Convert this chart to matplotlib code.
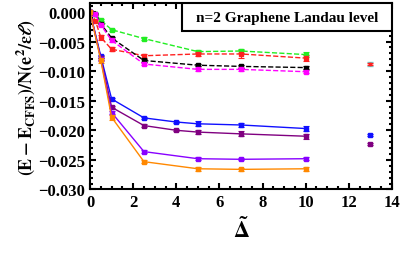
import numpy as np
import matplotlib
matplotlib.use("Agg")
from matplotlib import pyplot as plt
from matplotlib.patches import Rectangle
from matplotlib.ticker import MultipleLocator

# dashed series
x_dash = [0, 0.25, 0.5, 1, 2.5, 5, 7, 10]
green = [0.0, -0.0004, -0.0014, -0.0030, -0.0045, -0.0067, -0.0066, -0.0072]
green_err = [0, 0.0001, 0.0002, 0.0002, 0.0003, 0.0003, 0.0004, 0.0004]
red = [0.0, -0.0015, -0.0043, -0.0063, -0.0074, -0.0071, -0.0071, -0.0078]
red_err = [0, 0.0002, 0.0004, 0.0003, 0.0003, 0.0003, 0.0006, 0.0005]
black = [0.0, -0.0003, -0.0020, -0.0044, -0.0082, -0.0090, -0.0092, -0.0094]
black_err = [0, 0.0001, 0.0001, 0.0002, 0.0002, 0.0002, 0.0002, 0.0002]
magenta = [0.0, -0.0004, -0.0022, -0.0048, -0.0088, -0.0097, -0.0097, -0.0101]
magenta_err = [0, 0.0001, 0.0001, 0.0002, 0.0002, 0.0002, 0.0003, 0.0003]

# solid series
x_blue = [0, 0.5, 1, 2.5, 4, 5, 7, 10]
blue = [0.0, -0.0075, -0.0147, -0.0179, -0.0186, -0.0189, -0.0191, -0.0197]
blue_err = [0, 0.0003, 0.0002, 0.0002, 0.0002, 0.0004, 0.0004, 0.0004]
x_purple = [0, 0.5, 1, 2.5, 4, 5, 7, 10]
purple = [0.0, -0.0078, -0.0161, -0.0192, -0.0200, -0.0203, -0.0206, -0.0210]
purple_err = [0, 0.0003, 0.0002, 0.0002, 0.0002, 0.0003, 0.0004, 0.0004]
x_solid = [0, 0.5, 1, 2.5, 5, 7, 10]
violet = [0.0, -0.0080, -0.0170, -0.0236, -0.0248, -0.0249, -0.0248]
violet_err = [0, 0.0003, 0.0003, 0.0002, 0.0003, 0.0002, 0.0003]
orange = [0.0, -0.0082, -0.0178, -0.0253, -0.0265, -0.0266, -0.0265]
orange_err = [0, 0.0004, 0.0004, 0.0002, 0.0003, 0.0002, 0.0003]

# isolated points at larger Delta
x_single = [13]
red_single = [-0.0088]
red_single_err = [0.0004]
blue_single = [-0.0208]
blue_single_err = [0.0002]
purple_single = [-0.0223]
purple_single_err = [0.0002]

plt.rcParams['font.family'] = ['Liberation Serif', 'DejaVu Serif']
plt.rcParams['font.weight'] = 'bold'
plt.rcParams['mathtext.fontset'] = 'stix'

fig = plt.figure(figsize=(4.02, 2.55), dpi=100)
ax = fig.add_axes([0.224, 0.253, 0.751, 0.731])


def draw(x, y, err, color, ls):
    ax.errorbar(x, y, yerr=err, color=color, ls=ls, lw=1.0, marker='s', ms=2.5,
                capsize=2, elinewidth=0.8, capthick=0.8)


draw(x_dash, green, green_err, '#22ee22', '--')
draw(x_dash, red, red_err, '#ff2020', '--')
draw(x_dash, black, black_err, 'black', '--')
draw(x_dash, magenta, magenta_err, '#ff00ff', '--')
draw(x_blue, blue, blue_err, '#1010ff', '-')
draw(x_purple, purple, purple_err, '#800080', '-')
draw(x_solid, violet, violet_err, '#8800ff', '-')
draw(x_solid, orange, orange_err, '#ff8800', '-')

ax.errorbar(x_single, red_single, yerr=red_single_err, color='#ff2020', ls='none',
            marker='s', ms=2, capsize=2, elinewidth=0.8, ecolor='#66dddd')
ax.errorbar(x_single, red_single, yerr=[e * 0.6 for e in red_single_err], color='#ff2020',
            ls='none', marker='s', ms=2, capsize=2, elinewidth=0.8)
draw(x_single, blue_single, blue_single_err, '#1010ff', 'none')
draw(x_single, purple_single, purple_single_err, '#800080', 'none')

ax.set_xlim(0, 14)
ax.set_ylim(-0.030, 0.0015)
ax.xaxis.set_major_locator(MultipleLocator(2))
ax.xaxis.set_minor_locator(MultipleLocator(0.5))
ax.yaxis.set_major_locator(MultipleLocator(0.005))
ax.yaxis.set_minor_locator(MultipleLocator(0.001))
ax.yaxis.set_major_formatter(plt.FuncFormatter(lambda v, p: f"{v:.3f}".replace('-', '\u2212')))
ax.tick_params(which='both', direction='in', top=True, right=True, width=1.5)
ax.tick_params(which='major', length=4, labelsize=12)
ax.tick_params(which='minor', length=2)
for s in ax.spines.values():
    s.set_linewidth(1.5)
for lbl in ax.get_xticklabels() + ax.get_yticklabels():
    lbl.set_fontweight('bold')

ax.set_ylabel(r'$\mathbf{(E-E_{CFFS})/N(e^2/\epsilon\ell)}$', fontsize=13, labelpad=1)
ax.set_xlabel(r'$\tilde{\mathbf{\Delta}}$', fontsize=16, labelpad=4)

# label box in the top right corner
ax.add_patch(Rectangle((0.305, 0.85), 0.695, 0.15, transform=ax.transAxes,
                       fc='white', ec='black', lw=1.5, zorder=5))
ax.text(0.6525, 0.925, 'n=2 Graphene Landau level', transform=ax.transAxes,
        ha='center', va='center', fontsize=11, fontweight='bold', zorder=6)

fig.savefig('out.png', dpi=100)
